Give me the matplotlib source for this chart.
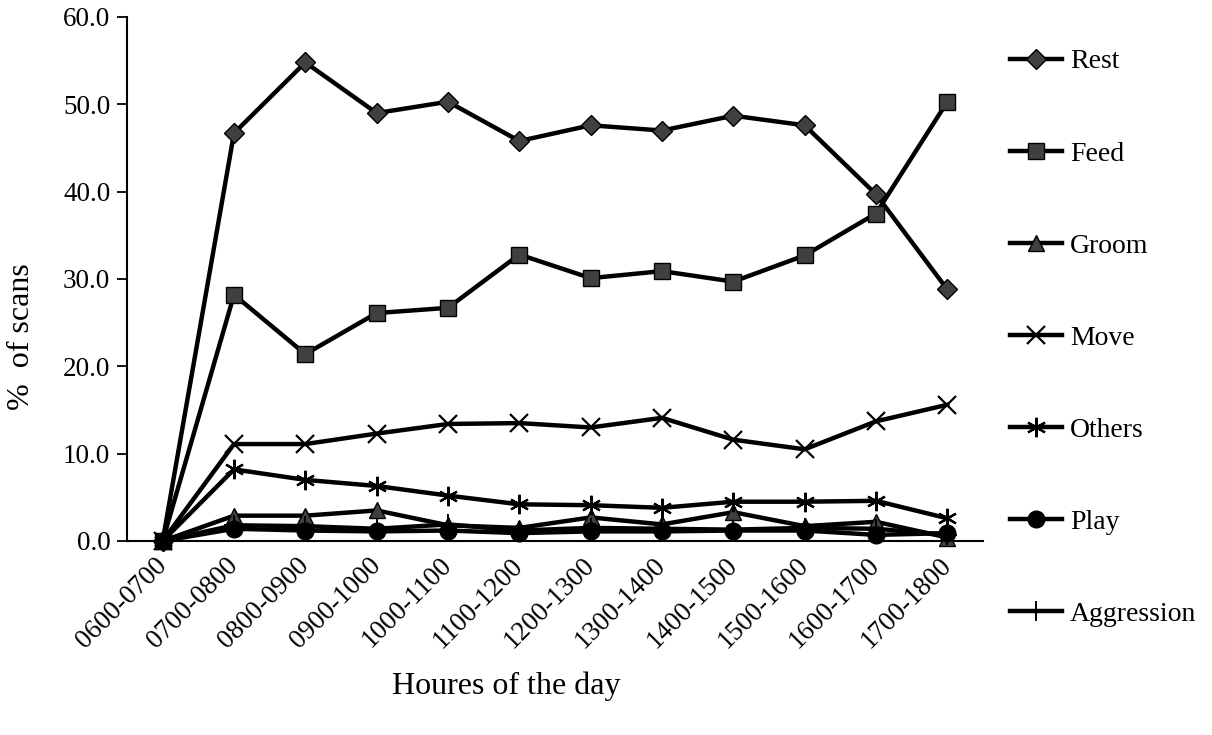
import matplotlib
matplotlib.use("Agg")
import matplotlib.pyplot as plt

hours = ["0600-0700", "0700-0800", "0800-0900", "0900-1000", "1000-1100", "1100-1200",
         "1200-1300", "1300-1400", "1400-1500", "1500-1600", "1600-1700", "1700-1800"]
rest = [0.0, 46.7, 54.8, 49.0, 50.3, 45.8, 47.6, 47.0, 48.7, 47.6, 39.7, 28.8]
feed = [0.0, 28.2, 21.4, 26.1, 26.7, 32.8, 30.1, 30.9, 29.7, 32.7, 37.5, 50.3]
groom = [0.0, 2.9, 2.9, 3.5, 1.8, 1.5, 2.7, 1.9, 3.3, 1.7, 2.2, 0.4]
move = [0.0, 11.1, 11.1, 12.3, 13.4, 13.5, 13.0, 14.1, 11.6, 10.5, 13.7, 15.6]
others = [0.0, 8.2, 7.0, 6.3, 5.2, 4.2, 4.1, 3.8, 4.5, 4.5, 4.6, 2.6]
play = [0.0, 1.4, 1.2, 1.1, 1.2, 0.9, 1.1, 1.1, 1.2, 1.2, 0.7, 0.9]
aggression = [0.0, 1.8, 1.7, 1.4, 1.9, 1.2, 1.5, 1.4, 1.3, 1.5, 1.4, 0.7]
yticks = [0, 10, 20, 30, 40, 50, 60]

plt.rcParams['font.family'] = ['Liberation Serif', 'DejaVu Serif']

fig = plt.figure(figsize=(12.12, 7.35), dpi=100)
ax = fig.add_axes([127/1212, 1-541/735, (983-127)/1212, (541-17)/735])

x = list(range(len(hours)))
gray = '#404040'
lw = 3.2
series = [
    ("Rest", rest, dict(marker='D', markersize=10.5, markerfacecolor=gray, markeredgecolor='black', markeredgewidth=1)),
    ("Feed", feed, dict(marker='s', markersize=12, markerfacecolor=gray, markeredgecolor='black', markeredgewidth=1)),
    ("Groom", groom, dict(marker='^', markersize=12, markerfacecolor=gray, markeredgecolor='black', markeredgewidth=1)),
    ("Move", move, dict(marker='x', markersize=13, markeredgecolor='black', markeredgewidth=1.6)),
    ("Others", others, dict(marker=(6, 2, 0), markersize=14, markeredgecolor='black', markeredgewidth=1.6)),
    ("Play", play, dict(marker='o', markersize=12, markerfacecolor='black', markeredgecolor='black')),
    ("Aggression", aggression, dict(marker='+', markersize=14, markeredgecolor='black', markeredgewidth=1.4)),
]
for i, (name, vals, st) in enumerate(series):
    ax.plot(x, vals, color='black', linewidth=lw, label=name, zorder=3 + i, clip_on=False, **st)

ax.set_xlim(-0.5, len(hours) - 0.5)
ax.set_ylim(0, 60)
ax.set_yticks(yticks)
ax.set_yticklabels([f"{v:.1f}" for v in yticks], fontsize=19.5)
ax.set_xticks(x)
ax.set_xticklabels(hours, rotation=45, ha='right', va='center', rotation_mode='anchor', fontsize=19.5)
ax.tick_params(axis='x', length=0, pad=15)
ax.tick_params(axis='y', length=7, width=1.3, direction='out', pad=5)
for s in ['top', 'right']:
    ax.spines[s].set_visible(False)
ax.spines['left'].set_linewidth(1.5)
ax.spines['bottom'].set_linewidth(1.5)

ax.set_ylabel("%  of scans", fontsize=23, va='center', ha='center')
ax.yaxis.set_label_coords((22-127)/856, (541-337)/524)
ax.set_xlabel("Houres of the day", fontsize=23, va='center', ha='center')
ax.xaxis.set_label_coords((506-127)/856, (541-686)/524)

leg = fig.legend(loc='upper left', bbox_to_anchor=(1010/1212, 1-49/735), frameon=False,
                 fontsize=20, handlelength=1.87, labelspacing=2.4, handletextpad=0.29,
                 borderaxespad=0, borderpad=0)

fig.savefig("out.png", dpi=100)
